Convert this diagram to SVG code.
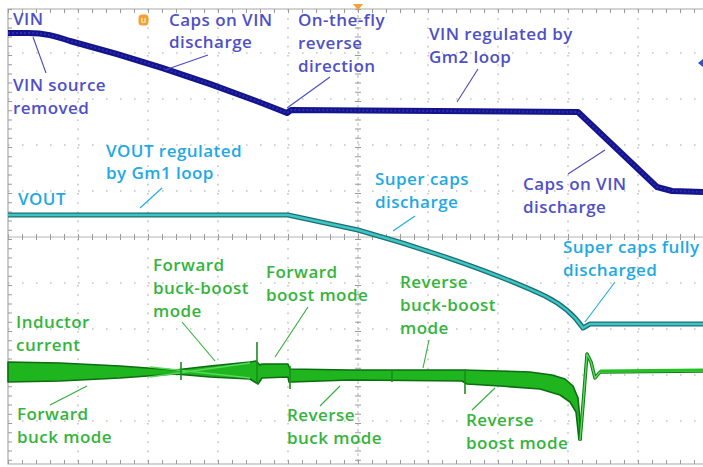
<svg xmlns="http://www.w3.org/2000/svg" width="703" height="467" viewBox="0 0 703 467">
<defs>
<style>
.grid{stroke:#c4c4c4;stroke-width:1.6;fill:none}
.gh{stroke-dasharray:1.6 12.4}
.gv{stroke-dasharray:1.6 7.6}
.tick{stroke:#9a9a9a;fill:none}
.lbl{font-family:"Open Sans","Liberation Sans",sans-serif;font-size:17px;font-weight:600;letter-spacing:0.45px}
.vin{fill:#5050c6}
.vout{fill:#1ea9e4}
.il{fill:#35b43c}
.lead{stroke-width:1.1;fill:none}
.lvin{stroke:#4a4ac0}
.lvout{stroke:#1ea9e4}
.lil{stroke:#2fae3a}
</style>
</defs>
<rect width="703" height="467" fill="#ffffff"/>
<g id="grid">
<g class="grid gh">
<line x1="8" y1="53" x2="703" y2="53"/><line x1="8" y1="99" x2="703" y2="99"/>
<line x1="8" y1="145" x2="703" y2="145"/><line x1="8" y1="191" x2="703" y2="191"/>
<line x1="8" y1="283" x2="703" y2="283"/><line x1="8" y1="329" x2="703" y2="329"/>
<line x1="8" y1="375" x2="703" y2="375"/><line x1="8" y1="421" x2="703" y2="421"/>
</g>
<g class="grid gv">
<line x1="78" y1="9" x2="78" y2="464"/><line x1="148" y1="9" x2="148" y2="464"/>
<line x1="218" y1="9" x2="218" y2="464"/><line x1="288" y1="9" x2="288" y2="464"/>
<line x1="428" y1="9" x2="428" y2="464"/><line x1="498" y1="9" x2="498" y2="464"/>
<line x1="568" y1="9" x2="568" y2="464"/><line x1="638" y1="9" x2="638" y2="464"/>
</g>
<line x1="8" y1="237" x2="703" y2="237" stroke="#b4b4b4" stroke-width="1"/>
<line x1="8" y1="237" x2="703" y2="237" class="tick" stroke-width="6" stroke-dasharray="1 13"/>
<line x1="358" y1="9" x2="358" y2="464" stroke="#b4b4b4" stroke-width="1" stroke-dasharray="3 3"/>
<line x1="358" y1="9" x2="358" y2="464" class="tick" stroke-width="6" stroke-dasharray="1 8.2"/>
<path d="M703,9 H8 V464 H703" stroke="#a8a8a8" stroke-width="1.2" fill="none"/>
<line x1="8" y1="11" x2="703" y2="11" class="tick" stroke-width="4" stroke-dasharray="1 13"/>
<line x1="8" y1="462" x2="703" y2="462" class="tick" stroke-width="4" stroke-dasharray="1 13"/>
<line x1="10" y1="9" x2="10" y2="464" class="tick" stroke-width="4" stroke-dasharray="1 8.2"/>
</g>
<g id="markers">
<rect x="138.5" y="14.5" width="10" height="11" rx="3.5" fill="#f5a030"/>
<text x="143.5" y="23" font-family="Liberation Sans, sans-serif" font-size="9" font-weight="bold" fill="#fde6c0" text-anchor="middle">u</text>
<path d="M353,4 L363,4 L358,10 Z" fill="#f5a030"/>
<path d="M703,59 L698,63 L703,67 Z" fill="#3050d0"/>
</g>
<g id="traces">
<g id="trace-vin">
<path d="M8,33 L28,33 C45,33 55,36 70,41 Q180,70 287,113 L291,110 L578,112 L657,187 L672,191 L703,192" fill="none" stroke="#14148a" stroke-width="6" stroke-linejoin="round"/>
<path d="M8,33 L28,33 C45,33 55,36 70,41 Q180,70 287,113 L291,110 L578,112 L657,187 L672,191 L703,192" fill="none" stroke="#2a2ab8" stroke-width="2" stroke-dasharray="2 2"/>
</g>
<g id="trace-vout">
<path d="M8,215 L288,215 Q330,224 358,230 C430,250 500,275 545,296 C565,306 575,316 583,328 L590,324 L703,324" fill="none" stroke="#1f6e70" stroke-width="5" stroke-linejoin="round"/>
<path d="M8,215 L288,215 Q330,224 358,230 C430,250 500,275 545,296 C565,306 575,316 583,328 L590,324 L703,324" fill="none" stroke="#3cc6c6" stroke-width="2.4" stroke-linejoin="round"/>
</g>
<g id="trace-il">
<path d="M8,362 L60,363 L120,366 L175,370 L210,366 L250,362 L256,361 L260,365 L262,364 L288,364 L290,369 L350,370 L420,370 L462,370 L500,371 L530,372 L552,375 L565,379 L573,386 L578,398 L580,420 L581,440 L579,440 L576,412 L570,402 L560,395 L540,389 L500,386 L467,384 L462,381 L350,380 L292,382 L289,382 L288,377 L262,378 L258,384 L250,379 L210,377 L175,374 L120,378 L60,381 L8,382 Z" fill="#1fb51f" stroke="#0c6e10" stroke-width="1.6" stroke-linejoin="round"/>
<path d="M150,367 L250,378 M150,377 L250,363" stroke="#57d857" stroke-width="1.4" fill="none"/>
<path d="M181,362 L181,380 M257,342 L257,384 M290,366 L290,389 M465,369 L465,394 M392,370 L392,382" stroke="#1c8c1c" stroke-width="1.6" fill="none"/>
<path d="M580,440 L583,405 L587,354 L591,362 L595,378 L600,372 L703,371" fill="none" stroke="#0f7a14" stroke-width="3.4" stroke-linejoin="round"/>
<path d="M580,440 L583,405 L587,354 L591,362 L595,378 L600,372 L703,371" fill="none" stroke="#5adc5a" stroke-width="1.4" stroke-linejoin="round"/>
<path d="M600,371 L703,370" stroke="#24c124" stroke-width="3" fill="none"/>
</g>
</g>
<g id="connectors">
<line class="lead lvin" x1="33" y1="37" x2="46" y2="73"/>
<line class="lead lvin" x1="165" y1="70" x2="208" y2="55"/>
<line class="lead lvin" x1="287" y1="108" x2="330" y2="77"/>
<line class="lead lvin" x1="457" y1="102" x2="478" y2="69"/>
<line class="lead lvin" x1="605" y1="150" x2="568" y2="174"/>
<line class="lead lvout" x1="140" y1="208" x2="162" y2="188"/>
<line class="lead lvout" x1="393" y1="231" x2="415" y2="216"/>
<line class="lead lvout" x1="585" y1="322" x2="615" y2="282"/>
<line class="lead lil" x1="182" y1="322" x2="215" y2="361"/>
<line class="lead lil" x1="308" y1="307" x2="275" y2="357"/>
<line class="lead lil" x1="423" y1="368" x2="429" y2="340"/>
<line class="lead lil" x1="50" y1="405" x2="87" y2="386"/>
<line class="lead lil" x1="320" y1="406" x2="340" y2="386"/>
<line class="lead lil" x1="472" y1="410" x2="495" y2="388"/>
</g>
<g id="label-vin"><text class="lbl vin" x="13" y="25">VIN</text></g>
<g id="label-vin-source"><text class="lbl vin" x="13" y="91">VIN source<tspan x="13" dy="23">removed</tspan></text></g>
<g id="label-caps-vin-1"><text class="lbl vin" x="169" y="26">Caps on VIN<tspan x="169" dy="22">discharge</tspan></text></g>
<g id="label-reverse"><text class="lbl vin" x="298" y="26">On-the-fly<tspan x="298" dy="23">reverse</tspan><tspan x="298" dy="23">direction</tspan></text></g>
<g id="label-vin-reg"><text class="lbl vin" x="429" y="40">VIN regulated by<tspan x="429" dy="23">Gm2 loop</tspan></text></g>
<g id="label-caps-vin-2"><text class="lbl vin" x="523" y="190">Caps on VIN<tspan x="523" dy="23">discharge</tspan></text></g>
<g id="label-vout"><text class="lbl vout" x="18" y="205">VOUT</text></g>
<g id="label-vout-reg"><text class="lbl vout" x="106" y="157">VOUT regulated<tspan x="106" dy="22">by Gm1 loop</tspan></text></g>
<g id="label-super-caps"><text class="lbl vout" x="375" y="185">Super caps<tspan x="375" dy="23">discharge</tspan></text></g>
<g id="label-super-caps-full"><text class="lbl vout" x="563" y="253">Super caps fully<tspan x="563" dy="23">discharged</tspan></text></g>
<g id="label-inductor"><text class="lbl il" x="16" y="328">Inductor<tspan x="16" dy="23">current</tspan></text></g>
<g id="label-fwd-buckboost"><text class="lbl il" x="153" y="271">Forward<tspan x="153" dy="23">buck-boost</tspan><tspan x="153" dy="23">mode</tspan></text></g>
<g id="label-fwd-boost"><text class="lbl il" x="266" y="278">Forward<tspan x="266" dy="23">boost mode</tspan></text></g>
<g id="label-rev-buckboost"><text class="lbl il" x="400" y="288">Reverse<tspan x="400" dy="23">buck-boost</tspan><tspan x="400" dy="23">mode</tspan></text></g>
<g id="label-fwd-buck"><text class="lbl il" x="17" y="420">Forward<tspan x="17" dy="23">buck mode</tspan></text></g>
<g id="label-rev-buck"><text class="lbl il" x="287" y="421">Reverse<tspan x="287" dy="23">buck mode</tspan></text></g>
<g id="label-rev-boost"><text class="lbl il" x="466" y="426">Reverse<tspan x="466" dy="23">boost mode</tspan></text></g>
</svg>
